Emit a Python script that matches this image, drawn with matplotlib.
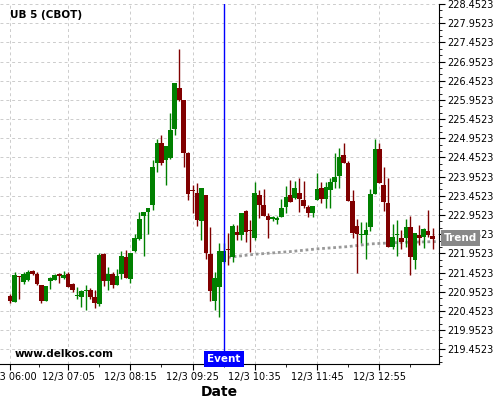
import matplotlib
matplotlib.use("Agg")
import matplotlib.pyplot as plt
import matplotlib.transforms as mtransforms
import numpy as np
from matplotlib.ticker import FixedLocator, AutoMinorLocator

# 5 minute bars, UB 5 (CBOT), 12/3 starting 06:00
opens = [220.84, 220.68, 221.36, 221.20, 221.26, 221.49, 221.41, 221.12, 220.71, 221.23,
         221.26, 221.41, 221.31, 221.41, 221.15, 220.83, 220.81, 220.96, 220.99, 220.81,
         220.63, 221.93, 221.23, 221.41, 221.12, 221.41, 221.86, 221.28, 222.01, 222.32,
         222.94, 223.04, 223.21, 224.30, 224.83, 224.38, 224.44, 225.19, 226.26, 225.95,
         224.57, 223.60, 223.52, 222.80, 223.47, 221.93, 220.71, 221.07, 221.73, 222.06,
         221.86, 222.51, 222.43, 223.05, 222.56, 222.35, 223.47, 223.21, 222.94, 222.86,
         222.82, 222.90, 223.16, 223.47, 223.39, 223.52, 223.34, 223.16, 223.00, 223.34,
         223.65, 223.37, 223.60, 223.81, 223.97, 224.52, 224.31, 223.31, 222.66, 222.43,
         222.43, 222.64, 223.50, 224.67, 223.73, 223.26, 222.12, 222.42, 222.35, 222.35,
         222.64, 221.78, 222.43, 222.38, 222.53, 222.40]
highs = [220.89, 221.46, 221.37, 221.46, 221.52, 221.52, 221.46, 221.12, 221.10, 221.33,
         221.41, 221.44, 221.49, 221.46, 221.18, 221.07, 220.99, 221.12, 221.04, 220.99,
         221.96, 221.96, 221.59, 221.46, 221.54, 222.01, 222.04, 221.96, 222.46, 223.04,
         223.04, 223.14, 224.38, 224.93, 225.03, 224.75, 225.61, 226.39, 227.28, 225.95,
         224.60, 223.73, 223.78, 223.66, 223.47, 222.64, 221.46, 222.22, 222.22, 222.48,
         222.72, 222.69, 223.00, 223.08, 222.82, 223.81, 223.60, 223.62, 223.00, 222.94,
         222.94, 223.37, 223.70, 223.86, 223.84, 223.91, 223.84, 223.21, 223.18, 224.04,
         223.81, 223.81, 223.91, 224.57, 224.70, 224.83, 224.36, 223.60, 222.84, 222.77,
         222.77, 223.63, 224.93, 224.83, 224.20, 223.91, 222.72, 222.82, 222.56, 222.84,
         222.92, 222.48, 222.69, 222.61, 223.08, 222.61]
lows = [220.66, 220.68, 220.76, 221.15, 221.23, 221.39, 221.12, 220.66, 220.71, 221.02,
        221.26, 221.18, 221.28, 221.07, 220.94, 220.76, 220.55, 220.47, 220.76, 220.53,
        220.58, 221.10, 220.99, 221.04, 221.12, 221.28, 221.31, 221.18, 221.99, 222.30,
        221.88, 222.46, 223.09, 224.07, 224.25, 223.73, 224.41, 225.03, 225.92, 224.20,
        223.35, 223.00, 222.67, 222.30, 221.80, 220.71, 220.47, 220.29, 221.70, 221.65,
        221.73, 222.30, 222.30, 222.25, 221.99, 222.30, 222.88, 222.94, 222.35, 222.80,
        222.72, 222.90, 223.00, 223.29, 223.37, 223.03, 223.13, 222.90, 222.90, 223.34,
        223.26, 223.13, 223.13, 223.65, 223.65, 224.31, 223.31, 222.35, 221.44, 222.22,
        221.80, 222.53, 223.50, 223.78, 223.06, 222.12, 222.07, 221.88, 222.07, 222.12,
        221.39, 221.54, 222.17, 222.10, 222.38, 222.07]
closes = [220.71, 221.39, 221.34, 221.41, 221.47, 221.41, 221.15, 220.71, 221.10, 221.31,
          221.39, 221.36, 221.39, 221.07, 220.99, 220.85, 220.97, 220.99, 220.81, 220.66,
          221.91, 221.23, 221.41, 221.12, 221.36, 221.88, 221.31, 221.96, 222.35, 222.85,
          223.04, 223.14, 224.20, 224.83, 224.30, 224.75, 225.17, 226.39, 225.95, 224.57,
          223.50, 223.57, 222.82, 223.66, 221.96, 220.97, 221.31, 222.01, 222.01, 222.04,
          222.67, 222.43, 223.00, 222.51, 222.53, 223.52, 223.21, 222.94, 222.82, 222.87,
          222.87, 223.13, 223.42, 223.29, 223.65, 223.37, 223.18, 223.00, 223.18, 223.63,
          223.37, 223.68, 223.81, 223.94, 224.46, 224.31, 223.31, 222.48, 222.46, 222.46,
          222.56, 223.50, 224.67, 223.78, 223.29, 222.12, 222.38, 222.43, 222.25, 222.64,
          221.86, 222.48, 222.35, 222.59, 222.43, 222.33]

tick_labels = ["12/3 06:00", "12/3 07:05", "12/3 08:15", "12/3 09:25",
               "12/3 10:35", "12/3 11:45", "12/3 12:55"]
tick_minutes = [0, 65, 135, 205, 275, 345, 415]   # minutes after 06:00
event_minute = 240                                 # 10:00

trend_minutes = [245, 275, 315, 345, 380, 405, 440, 480]
trend_values = [221.85, 221.93, 222.00, 222.07, 222.13, 222.20, 222.24, 222.26]
trend_label_value = 222.35

green = "#008000"
red = "#800000"

x = np.arange(len(opens)) * 5  # bar start times in minutes after 06:00
o = np.array(opens)
c = np.array(closes)
colors = [green if cc >= oo else red for oo, cc in zip(o, c)]

fig = plt.figure(figsize=(5, 4), dpi=100)
ax = fig.add_axes([0.0, 0.09, 0.878, 0.90])

# grid first, candles on top
ax.set_axisbelow(True)
ax.grid(True, which="major", color="#cccccc", linestyle=(0, (3, 3)), linewidth=0.7)

# wicks and bodies
ax.vlines(x, lows, highs, colors=colors, linewidth=1.0, zorder=2)
body_low = np.minimum(o, c)
body_h = np.maximum(np.abs(c - o), 0.03)
ax.bar(x, body_h, bottom=body_low, width=5.2, color=colors, linewidth=0, zorder=3)

# trend line
ax.plot(trend_minutes, trend_values, color="#999999", linestyle=(0, (1, 1)),
        linewidth=2, zorder=1.5)

# event line
ax.axvline(event_minute, color="blue", linewidth=1, zorder=4)

ax.set_xlim(-11.6, 482.2)
ax.set_ylim(219.07, 228.4523)

# axes look
ax.spines["left"].set_visible(False)
ax.spines["top"].set_visible(False)
ax.yaxis.tick_right()
yt = np.arange(219.4523, 228.46, 0.5)
ax.set_yticks(yt)
ax.set_yticklabels(["%.4f" % v for v in yt])
ax.yaxis.set_minor_locator(AutoMinorLocator(3))
ax.set_xticks(tick_minutes)
ax.set_xticklabels(tick_labels)
ax.xaxis.set_minor_locator(FixedLocator([32.5, 100, 170, 240, 310, 380, 450]))
ax.tick_params(axis="both", which="major", labelsize=7, length=4, pad=2)
ax.tick_params(axis="both", which="minor", length=2)

ax.set_xlabel("Date", fontsize=10, fontweight="bold", labelpad=2)

# labels
ax.text(0.023, 0.983, "UB 5 (CBOT)", transform=ax.transAxes, fontsize=7.5,
        fontweight="bold", va="top", ha="left")
ax.text(0.034, 0.015, "www.delkos.com", transform=ax.transAxes, fontsize=7.5,
        fontweight="bold", va="bottom", ha="left")
ax.text(event_minute, 219.07, "Event", color="white", fontsize=7.5, fontweight="bold",
        ha="center", va="bottom", zorder=5,
        bbox=dict(facecolor="blue", edgecolor="none", pad=2.5))
trans = mtransforms.blended_transform_factory(ax.transAxes, ax.transData)
ax.text(1.012, trend_label_value, "Trend", transform=trans, color="white", fontsize=7.5,
        fontweight="bold", ha="left", va="center", clip_on=False, zorder=6,
        bbox=dict(facecolor="#888888", edgecolor="none", pad=2))

fig.savefig("out.png", dpi=100)
